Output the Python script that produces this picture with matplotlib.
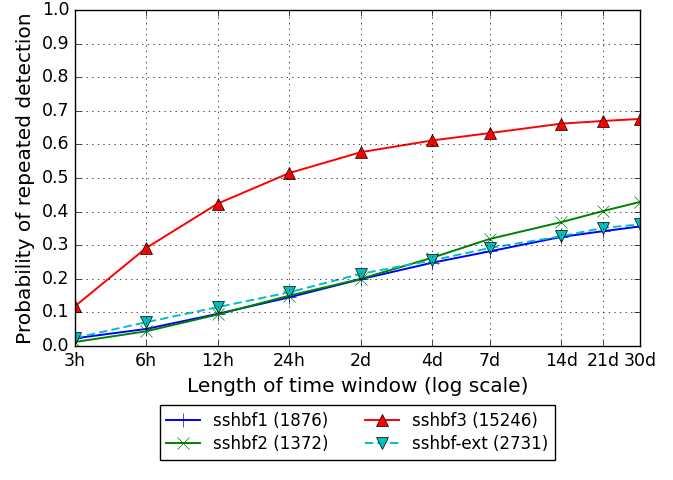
import matplotlib
matplotlib.use("Agg")
import matplotlib.pyplot as plt
from matplotlib.ticker import NullLocator

plt.style.use("classic")

# time window lengths in hours
hours = [3, 6, 12, 24, 48, 96, 168, 336, 504, 720]
tick_labels = ["3h", "6h", "12h", "24h", "2d", "4d", "7d", "14d", "21d", "30d"]

sshbf1 = [0.023, 0.051, 0.096, 0.145, 0.199, 0.248, 0.282, 0.325, 0.342, 0.356]
sshbf2 = [0.012, 0.044, 0.094, 0.150, 0.200, 0.263, 0.319, 0.369, 0.402, 0.429]
sshbf3 = [0.118, 0.292, 0.424, 0.515, 0.577, 0.612, 0.634, 0.662, 0.670, 0.676]
sshbf_ext = [0.024, 0.071, 0.116, 0.160, 0.215, 0.255, 0.292, 0.327, 0.352, 0.362]

fig = plt.figure(figsize=(6.73, 4.8), dpi=100, facecolor="white")
ax = fig.add_axes([0.111, 0.279, 0.840, 0.700])

lw = 1.4
ax.plot(hours, sshbf1, "b-", lw=lw, marker="+", markersize=10, label="sshbf1 (1876)")
ax.plot(hours, sshbf2, "g-", lw=lw, marker="x", markersize=9, label="sshbf2 (1372)")
ax.plot(hours, sshbf3, "r-", lw=lw, marker="^", markersize=8, label="sshbf3 (15246)")
ax.plot(hours, sshbf_ext, "c--", lw=lw, marker="v", markersize=8,
        dashes=(6, 3), label="sshbf-ext (2731)")

ax.set_xscale("log")
ax.set_xlim(3, 720)
ax.set_ylim(0, 1)
ax.set_xticks(hours)
ax.set_xticklabels(tick_labels)
ax.xaxis.set_minor_locator(NullLocator())
ax.set_yticks([i / 10 for i in range(11)])
ax.tick_params(labelsize=12.5)
ax.grid(True)

ax.set_xlabel("Length of time window (log scale)", fontsize=14.5)
ax.set_ylabel("Probability of repeated detection", fontsize=14.5)

ax.legend(loc="upper center", bbox_to_anchor=(0.5, -0.152), ncol=2,
          fontsize=12, numpoints=1, handlelength=2.0, labelspacing=0.3,
          columnspacing=2.2)

fig.savefig("out.png", dpi=100, facecolor="white")
